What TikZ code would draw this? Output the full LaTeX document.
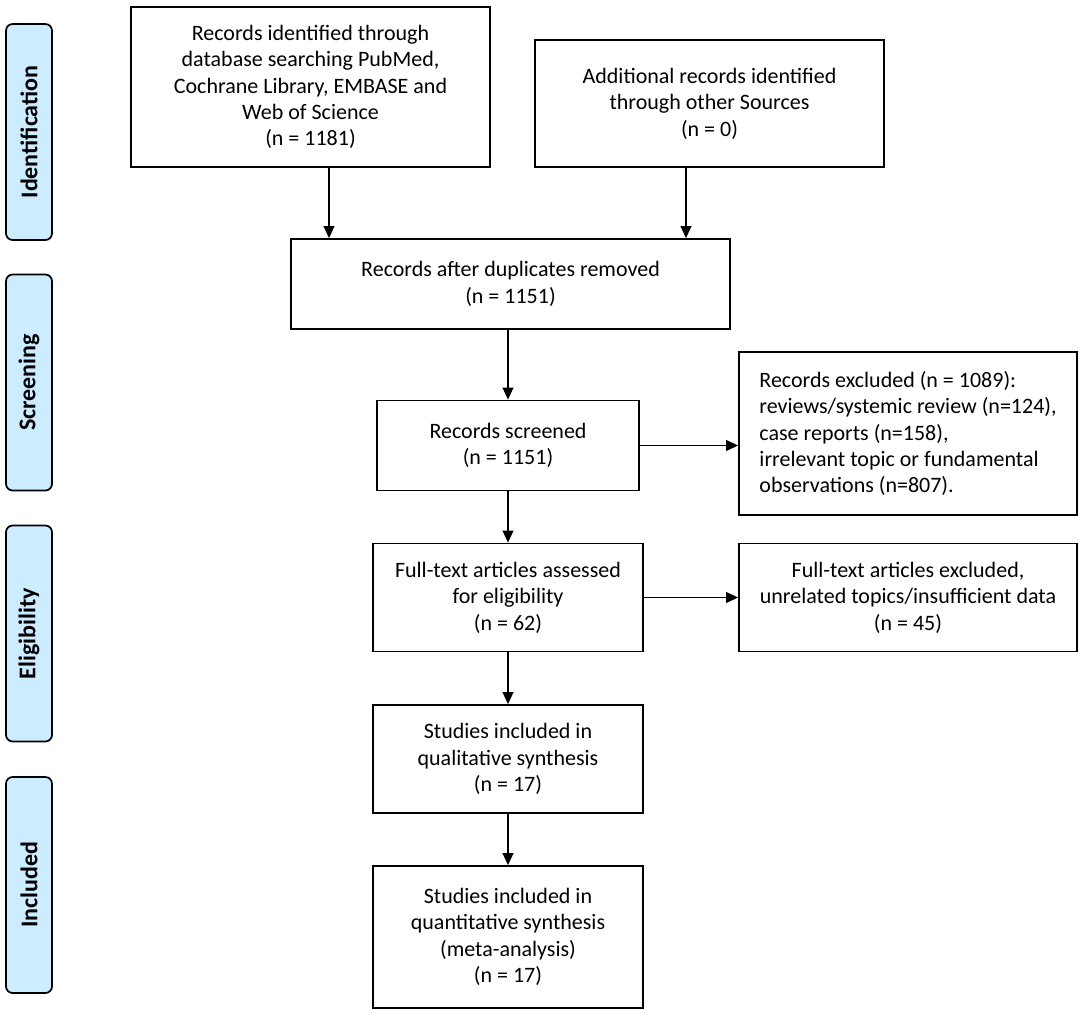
\documentclass[tikz,border=0pt]{standalone}
\usepackage{fontspec}
\setmainfont{Carlito}
\usetikzlibrary{arrows.meta,calc}
\definecolor{sidefill}{RGB}{204,236,255}
\tikzset{
  box/.style={draw=black, line width=1.3pt, fill=white, align=center, inner sep=0pt,
    font=\fontsize{16.5}{19.8}\selectfont},
  side/.style={draw=black, line width=1.3pt, fill=sidefill, rounded corners=5pt, rotate=90,
    minimum width={216*0.75pt}, minimum height={46*0.75pt}, inner sep=0pt,
    font=\fontsize{18}{20}\selectfont\bfseries},
  arr/.style={line width=1.3pt, -{Triangle[length=9pt,width=8pt]}},
}
\begin{document}
\begin{tikzpicture}[x=0.75pt,y=-0.75pt]
\useasboundingbox (0,0) rectangle (1084,1015);
% side labels
\node[side] (s1) at (29,132) {Identification};
\node[side] (s2) at (29,382.5) {Screening};
\node[side] (s3) at (29,633.5) {Eligibility};
\node[side] (s4) at (29,885) {Included};
% boxes
\node[box, minimum width={359*0.75pt}, minimum height={160*0.75pt}] (b1) at (310.5,87)
  {Records identified through\\database searching PubMed,\\Cochrane Library, EMBASE and\\Web of Science\\(n = 1181)};
\node[box, minimum width={349*0.75pt}, minimum height={127*0.75pt}] (b2) at (709.5,103.5)
  {Additional records identified\\through other Sources\\(n = 0)};
\node[box, minimum width={439*0.75pt}, minimum height={90*0.75pt}] (b3) at (510.5,284)
  {Records after duplicates removed\\(n = 1151)};
\node[box, minimum width={262*0.75pt}, minimum height={90*0.75pt}] (b4) at (508,445.5)
  {Records screened\\(n = 1151)};
\node[box, minimum width={338*0.75pt}, minimum height={163*0.75pt}, align=left] (e1) at (908,433.5)
  {Records excluded (n = 1089):\\reviews/systemic review (n=124),\\case reports (n=158),\\irrelevant topic or fundamental\\observations (n=807).};
\node[box, minimum width={270*0.75pt}, minimum height={108*0.75pt}] (b5) at (508,597.5)
  {Full-text articles assessed\\for eligibility\\(n = 62)};
\node[box, minimum width={338*0.75pt}, minimum height={108*0.75pt}] (e2) at (908,597.5)
  {Full-text articles excluded,\\unrelated topics/insufficient data\\(n = 45)};
\node[box, minimum width={270*0.75pt}, minimum height={108*0.75pt}] (b6) at (508,759)
  {Studies included in\\qualitative synthesis\\(n = 17)};
\node[box, minimum width={270*0.75pt}, minimum height={142*0.75pt}] (b7) at (508,937)
  {Studies included in\\quantitative synthesis\\(meta-analysis)\\(n = 17)};
% arrows
\coordinate (a1) at (329,0);
\coordinate (a2) at (686,0);
\draw[arr] (b1.south -| a1) -- (b3.north -| a1);
\draw[arr] (b2.south -| a2) -- (b3.north -| a2);
\draw[arr] (b3.south -| b4.north) -- (b4.north);
\draw[arr] (b4.south) -- (b5.north);
\draw[arr] (b5.south) -- (b6.north);
\draw[arr] (b6.south) -- (b7.north);
\draw[arr] (b4.east) -- (e1.west |- b4.east);
\draw[arr] (b5.east) -- (e2.west |- b5.east);
\end{tikzpicture}
\end{document}
